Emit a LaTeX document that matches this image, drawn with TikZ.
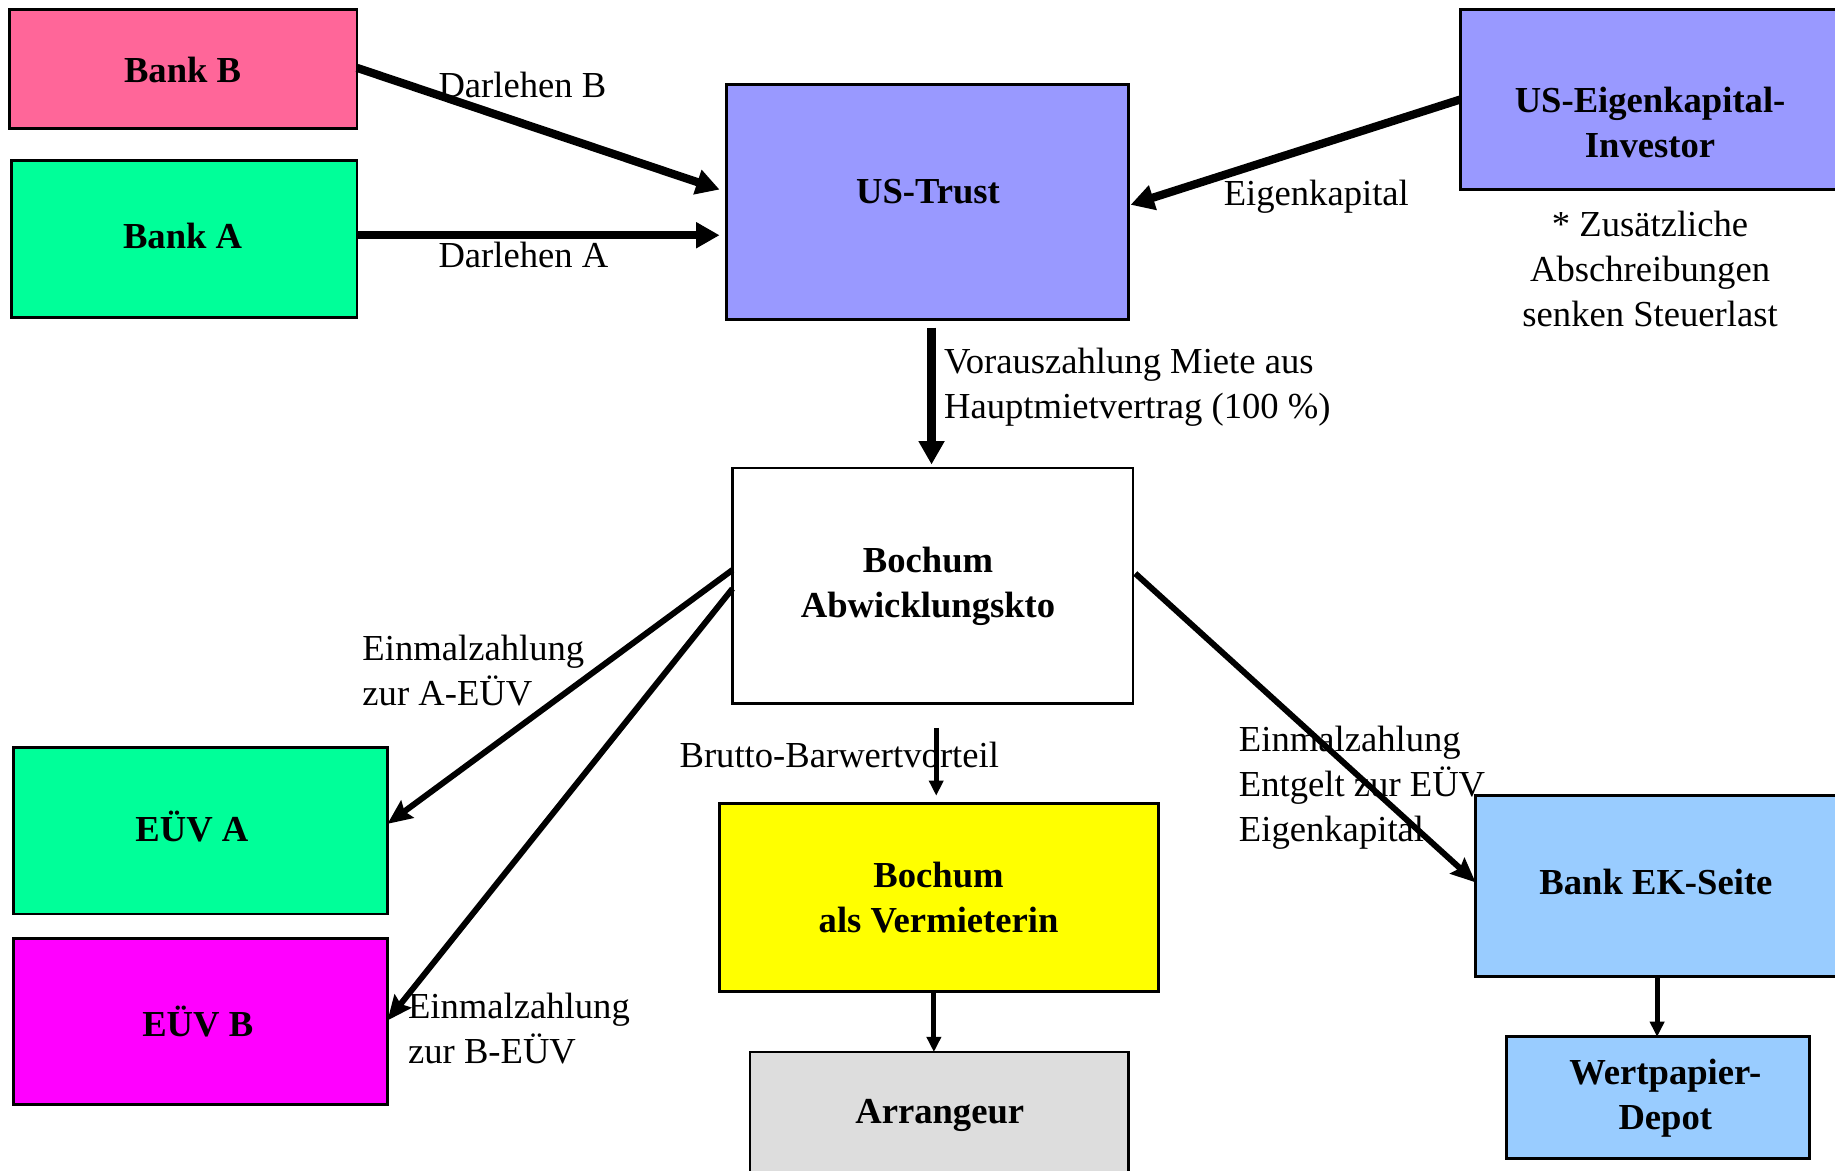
\documentclass[tikz,border=0pt]{standalone}
\usepackage{fontspec}
\setmainfont{Liberation Serif}
\usetikzlibrary{arrows.meta,calc}
\definecolor{cpink}{HTML}{FF6699}
\definecolor{cgreen}{HTML}{00FF99}
\definecolor{cviolet}{HTML}{9999FF}
\definecolor{cmag}{HTML}{FF00FF}
\definecolor{cyel}{HTML}{FFFF00}
\definecolor{cgray}{HTML}{DDDDDD}
\definecolor{cblue}{HTML}{99CCFF}
\tikzset{
  box/.style={draw=black, line width=0.7pt, inner sep=0pt, outer sep=0pt},
  boxtext/.style={font=\fontsize{8.9}{10.95}\selectfont\bfseries, align=center, inner sep=0pt},
  lbl/.style={font=\fontsize{8.9}{10.95}\selectfont, align=left, inner sep=0pt, anchor=west},
  bigarrow/.style={line width=2pt, -{Triangle[length=0.2cm,width=0.21cm]}},
  medarrow/.style={line width=1.45pt, -{Stealth[length=0.21cm,width=0.18cm,inset=0.03cm]}},
  smallarrow/.style={line width=1.2pt, -{Triangle[length=0.13cm,width=0.12cm]}},
}
\begin{document}
\begin{tikzpicture}[x=0.01cm,y=-0.01cm]
\useasboundingbox (0,0) rectangle (1568,1000);
\fill[white] (0,0) rectangle (1568,1000);
% boxes
\node[box, fill=cpink, minimum width=2.97cm, minimum height=1.02cm] (bankb) at (156.5,59) {};
\node[box, fill=cgreen, minimum width=2.95cm, minimum height=1.34cm] (banka) at (157.5,204) {};
\node[box, fill=cviolet, minimum width=3.43cm, minimum height=2.01cm] (trust) at (792.5,172.5) {};
\node[box, fill=cviolet, minimum width=3.24cm, minimum height=1.54cm] (inv) at (1410,85) {};
\node[box, fill=white, minimum width=3.42cm, minimum height=2.01cm] (bochum) at (797,500.5) {};
\node[box, fill=cgreen, minimum width=3.19cm, minimum height=1.42cm] (euva) at (171.5,710) {};
\node[box, fill=cmag, minimum width=3.19cm, minimum height=1.42cm] (euvb) at (171.5,873) {};
\node[box, fill=cyel, minimum width=3.75cm, minimum height=1.60cm] (verm) at (802.5,767) {};
\node[box, fill=cgray, minimum width=3.23cm, minimum height=1.04cm] (arr) at (802.5,951) {};
\node[box, fill=cblue, minimum width=3.10cm, minimum height=1.54cm] (bankek) at (1416,757) {};
\node[box, fill=cblue, minimum width=2.59cm, minimum height=1.04cm] (depot) at (1416.5,938) {};
% box texts
\node[boxtext] (tbankb) at (156,60) {Bank B};
\node[boxtext] (tbanka) at (156,202) {Bank A};
\node[boxtext] (ttrust) at (793,164) {US-Trust};
\node[boxtext] (tinv) at (1410,105) {US-Eigenkapital-\\Investor};
\node[boxtext] (tbochum) at (793,501) {Bochum\\Abwicklungskto};
\node[boxtext] (teuva) at (164,706) {EÜV A};
\node[boxtext] (teuvb) at (169,873) {EÜV B};
\node[boxtext] (tverm) at (802,767) {Bochum\\als Vermieterin};
\node[boxtext] (tarr) at (803,953) {Arrangeur};
\node[boxtext] (tbankek) at (1415,754) {Bank EK-Seite};
\node[boxtext] (tdepot) at (1423,938) {Wertpapier-\\Depot};
% labels
\node[lbl] (ldb) at (374,73) {Darlehen B};
\node[lbl] (lda) at (374,218) {Darlehen A};
\node[lbl] (lek) at (1045,168) {Eigenkapital};
\node[lbl, align=center, anchor=center] (lnote) at (1410,230) {* Zusätzliche\\Abschreibungen\\senken Steuerlast};
\node[lbl] (lvor) at (806,331) {Vorauszahlung Miete aus\\Hauptmietvertrag (100 \%)};
\node[lbl] (la) at (309,573) {Einmalzahlung\\zur A-EÜV};
\node[lbl] (lb) at (348,879) {Einmalzahlung\\zur B-EÜV};
\node[lbl] (lc) at (1058,673) {Einmalzahlung\\Entgelt zur EÜV\\Eigenkapital};
\node[lbl] (lbr) at (580,645) {Brutto-Barwertvorteil};
% connectors
\draw[bigarrow] ($(bankb.east)+(0,-1)$) -- ($(trust.west)+(-6,-10.5)$);
\draw[bigarrow] ($(banka.east)+(0,-3)$) -- ($(trust.west)+(-6,28.5)$);
\draw[bigarrow] (inv.west) -- ($(trust.east)+(2,2.5)$);
\draw[bigarrow] ($(trust.south)+(3.5,7)$) -- ($(bochum.north)+(-1,-3)$);
\draw[medarrow] ($(bochum.west)+(0,-13.5)$) -- ($(euva.east)+(0,-6)$);
\draw[medarrow] ($(bochum.west)+(0,2.5)$) -- ($(euvb.east)+(0,-1)$);
\draw[medarrow] ($(bochum.east)+(2,-10.5)$) -- ($(bankek.west)+(0,-3)$);
\coordinate (bstart) at (800,622);
\draw[smallarrow] (bstart) -- ($(verm.north)+(-2.5,-7)$);
\draw[smallarrow] ($(verm.south)+(-4.5,0)$) -- ($(arr.north)+(-4.5,0)$);
\draw[smallarrow] (bankek.south) -- ($(depot.north)+(-0.5,0)$);
\end{tikzpicture}
\end{document}
